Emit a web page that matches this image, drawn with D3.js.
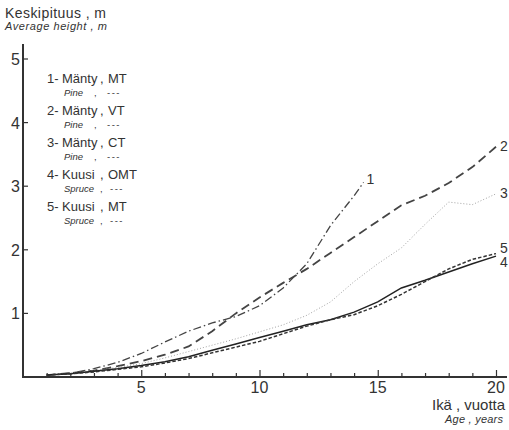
<!DOCTYPE html>
<html>
<head>
<meta charset="utf-8">
<script src="https://cdn.jsdelivr.net/npm/d3@7"></script>
<style>
  body { margin: 0; background: #fff; }
  svg { display: block; font-family: "Liberation Sans", Arial, sans-serif; }
</style>
</head>
<body>
<svg width="509" height="430"></svg>
<script>
// ages (years)
var ages = [1, 2, 3, 4, 5, 6, 7, 8, 9, 10, 11, 12, 13, 14, 15, 16, 17, 18, 19, 20];
var agesPineMT = [1, 2, 3, 4, 5, 6, 7, 8, 9, 10, 11, 12, 13, 14, 14.4];

// average height (m)
var pineMT = [0.03, 0.06, 0.13, 0.23, 0.37, 0.55, 0.72, 0.85, 0.95, 1.12, 1.4, 1.78, 2.38, 2.85, 3.06];
var pineVT = [0.03, 0.06, 0.1, 0.17, 0.25, 0.35, 0.48, 0.72, 1.0, 1.25, 1.48, 1.7, 1.95, 2.2, 2.45, 2.7, 2.85, 3.05, 3.3, 3.62];
var pineCT = [0.03, 0.06, 0.1, 0.15, 0.21, 0.3, 0.4, 0.5, 0.6, 0.71, 0.82, 0.97, 1.18, 1.5, 1.78, 2.03, 2.4, 2.75, 2.71, 2.88];
var spruceOMT = [0.03, 0.05, 0.09, 0.13, 0.18, 0.24, 0.32, 0.42, 0.52, 0.62, 0.72, 0.82, 0.9, 1.02, 1.18, 1.4, 1.52, 1.65, 1.78, 1.9];
var spruceMT = [0.03, 0.05, 0.08, 0.12, 0.16, 0.22, 0.29, 0.38, 0.47, 0.56, 0.68, 0.8, 0.9, 0.98, 1.12, 1.3, 1.5, 1.7, 1.85, 1.94];

var seriesIds = ["1", "2", "3", "4", "5"];
var legendFi = ["Mänty", "Mänty", "Mänty", "Kuusi", "Kuusi"];
var legendSite = ["MT", "VT", "CT", "OMT", "MT"];
var legendEn = ["Pine", "Pine", "Pine", "Spruce", "Spruce"];

var xTicks = [5, 10, 15, 20];
var yTicks = [1, 2, 3, 4, 5];

var svg = d3.select("svg");
var ink = "#333";

var x = d3.scaleLinear().domain([0, 20]).range([23, 496]);
var y = d3.scaleLinear().domain([0, 5]).range([377, 59]);

var series = [
    { id: "1", xs: agesPineMT, ys: pineMT, dash: "8,3,1.5,3", w: 1.3, col: "#444" },
    { id: "2", xs: ages, ys: pineVT, dash: "9,5", w: 1.8, col: "#444" },
    { id: "3", xs: ages, ys: pineCT, dash: "1,2", w: 0.9, col: "#999" },
    { id: "4", xs: ages, ys: spruceOMT, dash: null, w: 1.5, col: "#222" },
    { id: "5", xs: ages, ys: spruceMT, dash: "3.5,2", w: 1.5, col: "#333" }
];

// axes
var gx = svg.append("g")
    .attr("transform", "translate(0," + y(0) + ")")
    .call(d3.axisBottom(x).tickValues(d3.range(1, 21)).tickSize(-4).tickFormat(""));
gx.select(".domain").remove();
gx.selectAll("line").attr("stroke", ink).attr("stroke-width", 1.2)
    .attr("y2", function (d) { return d % 5 === 0 ? -7 : -4; });

svg.append("line")
    .attr("x1", x(0)).attr("x2", 507)
    .attr("y1", y(0)).attr("y2", y(0))
    .attr("stroke", ink).attr("stroke-width", 2);
svg.append("line")
    .attr("x1", x(0)).attr("x2", x(0))
    .attr("y1", 44).attr("y2", y(0) + 1)
    .attr("stroke", ink).attr("stroke-width", 2);

svg.selectAll(".ytick").data(yTicks).enter().append("line")
    .attr("x1", x(0)).attr("x2", x(0) + 5)
    .attr("y1", function (d) { return y(d); })
    .attr("y2", function (d) { return y(d); })
    .attr("stroke", ink).attr("stroke-width", 1.2);

svg.selectAll(".ylab").data(yTicks).enter().append("text")
    .attr("x", 20).attr("y", function (d) { return y(d) + 6; })
    .attr("text-anchor", "end")
    .attr("font-size", 16).attr("fill", ink)
    .text(function (d) { return d; });

svg.selectAll(".xlab").data(xTicks).enter().append("text")
    .attr("x", function (d) { return x(d); }).attr("y", 393)
    .attr("text-anchor", "middle")
    .attr("font-size", 16).attr("fill", ink)
    .text(function (d) { return d; });

// titles
svg.append("text").attr("x", 5).attr("y", 18)
    .attr("font-size", 14).attr("fill", ink)
    .attr("textLength", 101).attr("lengthAdjust", "spacing")
    .text("Keskipituus , m");
svg.append("text").attr("x", 5).attr("y", 30)
    .attr("font-size", 11).attr("font-style", "italic").attr("fill", ink)
    .attr("textLength", 102).attr("lengthAdjust", "spacing")
    .text("Average height , m");
svg.append("text").attr("x", 432).attr("y", 410)
    .attr("font-size", 15).attr("fill", ink)
    .attr("textLength", 73).attr("lengthAdjust", "spacing")
    .text("Ikä , vuotta");
svg.append("text").attr("x", 445).attr("y", 423)
    .attr("font-size", 11).attr("font-style", "italic").attr("fill", ink)
    .attr("textLength", 58).attr("lengthAdjust", "spacing")
    .text("Age , years");

// legend
var leg = svg.selectAll(".leg").data(seriesIds).enter().append("g")
    .attr("transform", function (d, i) { return "translate(47," + (83 + i * 32) + ")"; })
    .attr("fill", ink);
leg.append("text").attr("font-size", 13)
    .text(function (d) { return d + "-"; });
leg.append("text").attr("x", 15).attr("font-size", 13)
    .text(function (d, i) { return legendFi[i]; });
leg.append("text").attr("x", 53).attr("font-size", 13)
    .text(",");
leg.append("text").attr("x", 61).attr("font-size", 13)
    .text(function (d, i) { return legendSite[i]; });
leg.append("text").attr("x", 17).attr("y", 13).attr("font-size", 9.5).attr("font-style", "italic")
    .text(function (d, i) { return legendEn[i]; });
leg.append("text").attr("x", function (d, i) { return i > 2 ? 53 : 47; }).attr("y", 13).attr("font-size", 9.5)
    .text(",");
leg.append("text").attr("x", function (d, i) { return i > 2 ? 63 : 60; }).attr("y", 13).attr("font-size", 9.5)
    .attr("letter-spacing", 1.5)
    .text("---");

// lines
var line = d3.line()
    .x(function (d) { return x(d[0]); })
    .y(function (d) { return y(d[1]); });

svg.selectAll(".curve").data(series).enter().append("path")
    .attr("d", function (s) { return line(s.xs.map(function (a, i) { return [a, s.ys[i]]; })); })
    .attr("fill", "none")
    .attr("stroke", function (s) { return s.col; })
    .attr("stroke-width", function (s) { return s.w; })
    .attr("stroke-dasharray", function (s) { return s.dash; });

// end labels
var endOffset = { "1": [3, 2], "2": [4, 4], "3": [4, 4], "4": [4, 11], "5": [4, -1] };
svg.selectAll(".endlab").data(series).enter().append("text")
    .attr("x", function (s) { return x(s.xs[s.xs.length - 1]) + endOffset[s.id][0]; })
    .attr("y", function (s) { return y(s.ys[s.ys.length - 1]) + endOffset[s.id][1]; })
    .attr("font-size", 14).attr("fill", ink)
    .text(function (s) { return s.id; });
</script>
</body>
</html>
